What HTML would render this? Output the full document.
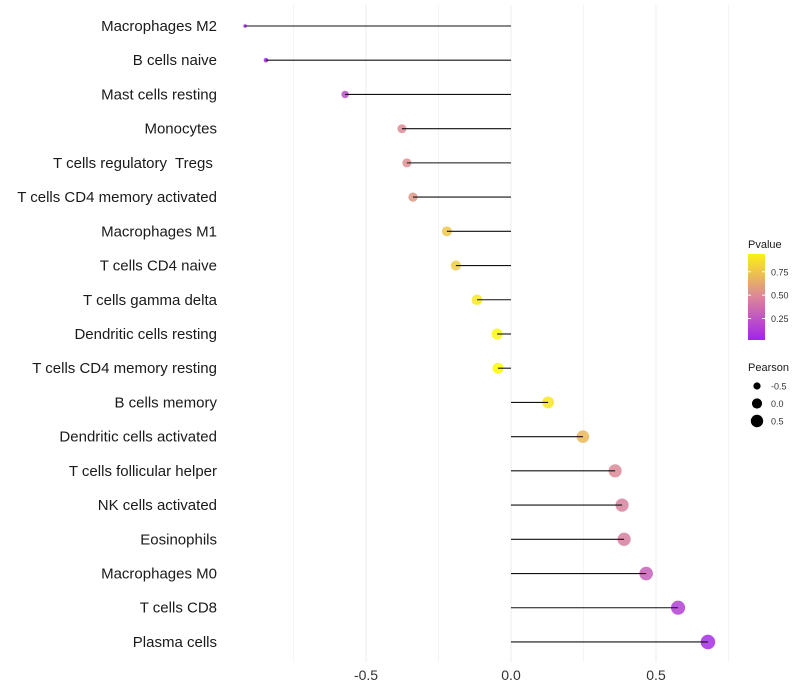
<!DOCTYPE html>
<html><head><meta charset="utf-8">
<style>
body{margin:0;background:#fff;}
svg{display:block;font-family:"Liberation Sans",sans-serif;}
text{white-space:pre;}
</style></head>
<body>
<svg id="chart" width="800" height="700"></svg>
<script>
const categories=["Macrophages M2","B cells naive","Mast cells resting","Monocytes","T cells regulatory  Tregs ","T cells CD4 memory activated","Macrophages M1","T cells CD4 naive","T cells gamma delta","Dendritic cells resting","T cells CD4 memory resting","B cells memory","Dendritic cells activated","T cells follicular helper","NK cells activated","Eosinophils","Macrophages M0","T cells CD8","Plasma cells"];
const pearson=[-0.917,-0.845,-0.572,-0.376,-0.359,-0.338,-0.221,-0.19,-0.117,-0.048,-0.045,0.128,0.248,0.359,0.383,0.39,0.466,0.576,0.679];
const pvalues=[0.01,0.03,0.22,0.5,0.52,0.55,0.75,0.78,0.9,0.98,0.98,0.9,0.7,0.5,0.46,0.45,0.3,0.15,0.06];
const xTicks=[-0.5,0,0.5];
const xTickLabels=["-0.5","0.0","0.5"];
const xMinor=[-0.75,-0.25,0.25,0.75];
const pTicks=[0.25,0.5,0.75];
const pTickLabels=["0.25","0.50","0.75"];
const sizeTicks=[-0.5,0,0.5];
const sizeTickLabels=["-0.5","0.0","0.5"];

const NS="http://www.w3.org/2000/svg";
const svg=document.getElementById('chart');
function mk(t,a,parent){const e=document.createElementNS(NS,t);for(const k in a)e.setAttribute(k,a[k]);(parent||svg).appendChild(e);return e;}
const x=v=>511+v*290;
const y=i=>26+i*34.22;
const rS=v=>Math.sqrt(3+(v+0.92)/1.6*50);
function col(p){const s=[[160,32,240],[220,138,150],[255,255,0]];let t=Math.max(0,Math.min(1,p));let a,b,f;if(t<0.5){a=s[0];b=s[1];f=t/0.5;}else{a=s[1];b=s[2];f=(t-0.5)/0.5;}return `rgb(${a.map((c,i)=>Math.round(c+(b[i]-c)*f)).join(',')})`;}

xMinor.forEach(v=>{const g=mk('line',{x1:x(v),x2:x(v),y1:5,y2:662,stroke:'#f4f4f4','stroke-width':1});

});
xTicks.forEach((v,i)=>{const g=mk('line',{x1:x(v),x2:x(v),y1:5,y2:662,stroke:'#ececec','stroke-width':1});


const t=mk('text',{x:x(v),y:680,'text-anchor':'middle','font-size':14,fill:'#333'});t.textContent=xTickLabels[i];

});

categories.forEach((c,i)=>{
 const t=mk('text',{x:217,y:y(i)+5,'text-anchor':'end','font-size':15,fill:'#1a1a1a'});t.textContent=c;
 
 
 const pt=mk('circle',{cx:x(pearson[i]),cy:y(i),r:rS(pearson[i]),fill:col(pvalues[i]),'fill-opacity':0.85});
 
 
 const ln=mk('line',{x1:x(0),x2:x(pearson[i]),y1:y(i),y2:y(i),stroke:'#111','stroke-width':1.1});
 
 
});

const defs=mk('defs',{});
const lg=mk('linearGradient',{id:'pg',x1:0,y1:1,x2:0,y2:0},defs);
[0,0.25,0.5,0.75,1].forEach(o=>{const pv=0.02+o*0.92;mk('stop',{offset:o,'stop-color':col(pv)},lg);});
const lt=mk('text',{x:748,y:248,'font-size':11,fill:'#1a1a1a'});lt.textContent='Pvalue';


const bar=mk('rect',{x:748,y:254,width:17,height:86,fill:'url(#pg)'});


const py=p=>340-(p-0.02)/0.92*86;
pTicks.forEach((p,i)=>{mk('line',{x1:748,x2:751,y1:py(p),y2:py(p),stroke:'#fff'});mk('line',{x1:762,x2:765,y1:py(p),y2:py(p),stroke:'#fff'});
 const t=mk('text',{x:771,y:py(p)+3.5,'font-size':9,fill:'#333'});t.textContent=pTickLabels[i];
 
 });
const st=mk('text',{x:748,y:371,'font-size':11,fill:'#1a1a1a'});st.textContent='Pearson';


sizeTicks.forEach((v,i)=>{const cy=386+i*17.5;
 const c=mk('circle',{cx:757,cy:cy,r:rS(v)*0.9,fill:'#000'});
 
 
 const t=mk('text',{x:771,y:cy+3.5,'font-size':9,fill:'#333'});t.textContent=sizeTickLabels[i];
 
 });
</script>
</body></html>
